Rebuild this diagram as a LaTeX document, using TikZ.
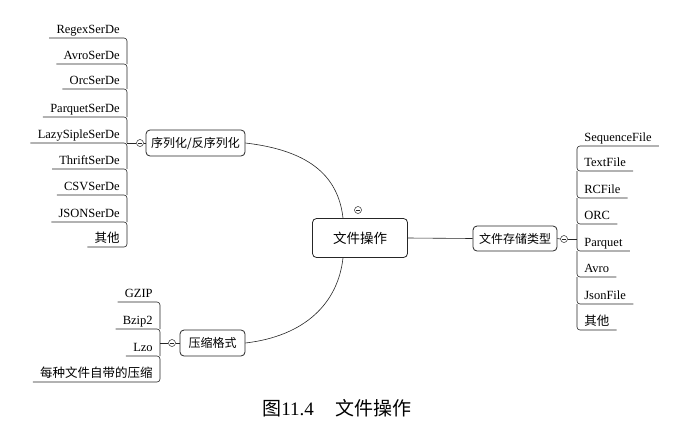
\documentclass[tikz,border=0pt]{standalone}
\usepackage{fontspec}
\setmainfont{Liberation Serif}
\newfontfamily\cjk{Noto Sans CJK SC}
\usetikzlibrary{calc}

\begin{document}
\begin{tikzpicture}[x=1pt,y=-1pt
	,line width=0.6pt
	,draw=black!85]
  \tikzstyle{topic}=[draw,rounded corners=4pt,line width=0.8pt,inner sep=0pt,minimum height=26pt,font=\cjk\fontsize{12}{14}\selectfont]
  \tikzstyle{leaf}=[inner xsep=7pt,inner ysep=1.5pt,text depth=2.6pt,font=\fontsize{12.5}{14}\selectfont]
  \tikzstyle{fold}=[circle,draw,line width=0.5pt,inner sep=0pt,minimum size=7pt,
	path picture={\draw ([xshift=1.6pt]path picture bounding box.west) -- ([xshift=-1.6pt]path picture bounding box.east);}]
  \tikzstyle{twig}=[rounded corners=3pt]

  \useasboundingbox (0,0) rectangle (685,445);

  % topics
  \node[topic,minimum width=95pt,minimum height=39pt,font=\cjk\fontsize{13.5}{16}\selectfont] (file) at (360,238) {文件操作};
  \node[fold] (filefold) at (358,210) {};
  \node[topic,minimum width=99pt] (serde) at (195.5,143) {序列化/反序列化};
  \node[fold] (serdefold) at (140,143) {};
  \node[topic,minimum width=65pt] (zip) at (212.5,343) {压缩格式};
  \node[fold] (zipfold) at (172,343) {};
  \node[topic,minimum width=84pt,minimum height=25pt] (store) at (515,238.5) {文件存储类型};
  \node[fold] (storefold) at (564,239) {};

  % serde leaves
  \node[leaf,anchor=south east] (regex) at (127,38) {RegexSerDe};
  \node[leaf,anchor=south east] (avrosd) at (127,64) {AvroSerDe};
  \node[leaf,anchor=south east] (orcsd) at (127,89) {OrcSerDe};
  \node[leaf,anchor=south east] (parquetsd) at (127,117) {ParquetSerDe};
  \node[leaf,anchor=south east] (lazy) at (127,143) {LazySipleSerDe};
  \node[leaf,anchor=south east] (thrift) at (127,169) {ThriftSerDe};
  \node[leaf,anchor=south east] (csv) at (127,195) {CSVSerDe};
  \node[leaf,anchor=south east] (jsonsd) at (127,222) {JSONSerDe};
  \node[leaf,anchor=south east] (othersd) at (127,247) {\cjk 其他};

  % zip leaves
  \node[leaf,anchor=south east] (gzip) at (160,302) {GZIP};
  \node[leaf,anchor=south east] (bzip) at (160,329) {Bzip2};
  \node[leaf,anchor=south east] (lzo) at (160,356) {Lzo};
  \node[leaf,anchor=south east] (own) at (160,382) {\cjk 每种文件自带的压缩};

  % store leaves
  \node[leaf,anchor=south west] (seq) at (577,146) {SequenceFile};
  \node[leaf,anchor=south west] (text) at (577,171) {TextFile};
  \node[leaf,anchor=south west] (rc) at (577,198) {RCFile};
  \node[leaf,anchor=south west] (orc) at (577,224) {ORC};
  \node[leaf,anchor=south west] (parquet) at (577,251) {Parquet};
  \node[leaf,anchor=south west] (avro) at (577,277) {Avro};
  \node[leaf,anchor=south west] (jsonfile) at (577,304) {JsonFile};
  \node[leaf,anchor=south west] (other) at (577,330) {\cjk 其他};

  % caption
  \node[anchor=west,inner sep=0pt,font=\fontsize{19}{22}\selectfont] (caption) at (262,408) {{\cjk 图}11.4\hspace{22pt}{\cjk 文件操作}};

  % main links
  \draw (file.east) -- (store.west);
  \draw (serde.east) .. controls +(60,7) and +(-5,-45) .. ([xshift=-17pt]file.north);
  \draw ([xshift=-17pt]file.south) .. controls +(-5,45) and +(60,-7) .. (zip.east);

  % folds
  \draw (serdefold.east) -- (serde.west);
  \draw (lazy.south east) -- (serdefold.west);
  \draw (zipfold.east) -- (zip.west);
  \draw (zipfold.west -| gzip.south east) -- (zipfold.west);
  \draw (store.east) -- (storefold.west);
  \draw (storefold.east) -- (storefold.east -| seq.south west);

  % serde bracket
  \draw[twig] (regex.south west) -- (regex.south east) -- (avrosd.south east);
  \draw[twig] (avrosd.south west) -- (avrosd.south east) -- (orcsd.south east);
  \draw[twig] (orcsd.south west) -- (orcsd.south east) -- (parquetsd.south east);
  \draw[twig] (parquetsd.south west) -- (parquetsd.south east) -- (lazy.south east);
  \draw[twig] (lazy.south west) -- (lazy.south east) -- (thrift.south east);
  \draw[twig] (thrift.south west) -- (thrift.south east) -- (csv.south east);
  \draw[twig] (csv.south west) -- (csv.south east) -- (jsonsd.south east);
  \draw[twig] (jsonsd.south west) -- (jsonsd.south east) -- (othersd.south east) -- (othersd.south west);

  % zip bracket
  \draw[twig] (gzip.south west) -- (gzip.south east) -- (bzip.south east);
  \draw[twig] (bzip.south west) -- (bzip.south east) -- (lzo.south east);
  \draw[twig] (lzo.south west) -- (lzo.south east) -- (own.south east) -- (own.south west);

  % store bracket
  \draw[twig] (seq.south east) -- (seq.south west) -- (text.south west) -- (text.south east);
  \draw[twig] (text.south west) -- (rc.south west) -- (rc.south east);
  \draw[twig] (rc.south west) -- (orc.south west) -- (orc.south east);
  \draw[twig] (orc.south west) -- (parquet.south west) -- (parquet.south east);
  \draw[twig] (parquet.south west) -- (avro.south west) -- (avro.south east);
  \draw[twig] (avro.south west) -- (jsonfile.south west) -- (jsonfile.south east);
  \draw[twig] (jsonfile.south west) -- (other.south west) -- (other.south east);
\end{tikzpicture}
\end{document}
